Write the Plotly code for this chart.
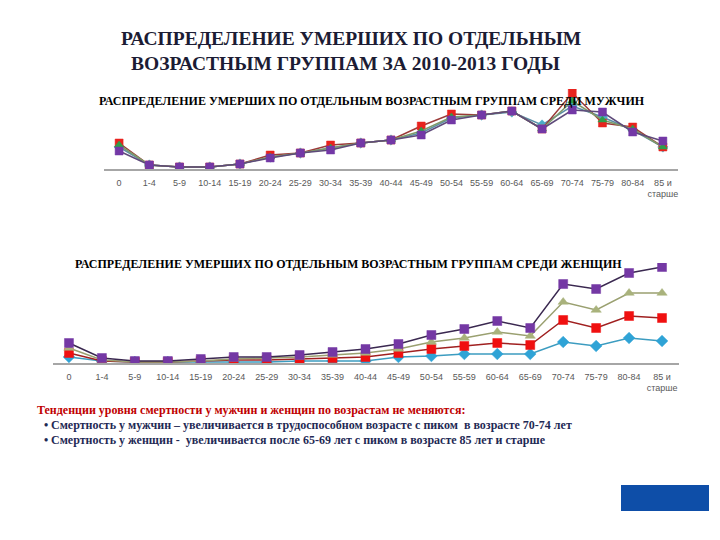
import plotly.graph_objects as go

W, H = 720, 540
OFF = 8  # default page body margin in the browser

age_groups = ["0", "1-4", "5-9", "10-14", "15-19", "20-24", "25-29", "30-34", "35-39",
              "40-44", "45-49", "50-54", "55-59", "60-64", "65-69", "70-74", "75-79",
              "80-84", "85 и<br>старше"]

years = ["2010", "2011", "2012", "2013"]

# Men (relative share, arbitrary units)
men_2010 = [22, 4, 2, 2, 5, 12, 16, 21, 26, 29, 36, 51, 54, 57, 44, 63, 52, 39, 22]
men_2011 = [26, 4, 2, 2, 5, 14, 16, 24, 26, 29, 43, 55, 54, 58, 40, 76, 46, 42, 22]
men_2012 = [24, 4, 2, 2, 5, 12, 16, 21, 26, 29, 38, 52, 54, 58, 40, 68, 49, 40, 22]
men_2013 = [18, 4, 2, 2, 5, 11, 16, 19, 26, 29, 34, 49, 54, 58, 40, 59, 57, 37, 28]

# Women (cumulative chart values)
women_2010 = [6, 2, 1, 1, 1, 1, 1, 2, 2, 2, 6, 7, 9, 9, 9, 21, 17, 25, 22]
women_2011 = [10, 2, 1, 1, 2, 3, 3, 4, 5, 6, 10, 14, 17, 20, 18, 43, 35, 47, 45]
women_2012 = [15, 3, 1, 1, 2, 4, 5, 6, 8, 10, 14, 21, 25, 31, 27, 61, 53, 70, 70]
women_2013 = [20, 5, 2, 2, 4, 6, 6, 8, 11, 14, 19, 28, 34, 42, 35, 79, 74, 90, 96]

men_series = [men_2010, men_2011, men_2012, men_2013]
women_series = [women_2010, women_2011, women_2012, women_2013]

men_style = [
    dict(symbol="diamond", color="#4BACC6", line="#5A8FA8"),
    dict(symbol="square", color="#E8231E", line="#9B3A38"),
    dict(symbol="triangle-up", color="#2E9E4A", line="#7F9A6A"),
    dict(symbol="square", color="#7338A6", line="#5E4A7A"),
]
women_style = [
    dict(symbol="diamond", color="#2FA3D6", line="#3C9CC0"),
    dict(symbol="square", color="#F01010", line="#A02020"),
    dict(symbol="triangle-up", color="#A9B27C", line="#9AA070"),
    dict(symbol="square", color="#7438A4", line="#3A2850"),
]

def px_x(p):
    return (p - OFF) / W

def px_y(p):
    return 1 - (p - OFF) / H

fig = go.Figure()

for name, vals, st in zip(years, men_series, men_style):
    fig.add_trace(go.Scatter(
        x=age_groups, y=vals, name=name, mode="lines+markers",
        line=dict(color=st["line"], width=1.5),
        marker=dict(symbol=st["symbol"], size=8, color=st["color"],
                    line=dict(color=st["color"], width=0.5)),
        xaxis="x", yaxis="y", showlegend=False))

for name, vals, st in zip(years, women_series, women_style):
    fig.add_trace(go.Scatter(
        x=age_groups, y=vals, name=name, mode="lines+markers",
        line=dict(color=st["line"], width=1.5),
        marker=dict(symbol=st["symbol"], size=9, color=st["color"],
                    line=dict(color=st["color"], width=0.5)),
        xaxis="x2", yaxis="y2", showlegend=False))

axis_common = dict(
    type="category", categoryorder="array", categoryarray=age_groups,
    range=[-0.5, len(age_groups) - 0.5],
    showline=True, linecolor="#A6A6A6", linewidth=1.5,
    showgrid=False, zeroline=False, ticks="", fixedrange=True,
    ticklabelstandoff=4,
    tickfont=dict(family="Liberation Sans", size=9, color="#595959"),
)

fig.update_layout(
    width=W, height=H,
    margin=dict(l=0, r=0, t=0, b=0),
    paper_bgcolor="white", plot_bgcolor="rgba(0,0,0,0)",
    xaxis=dict(axis_common, domain=[px_x(104), px_x(678)], anchor="y"),
    yaxis=dict(domain=[px_y(169), px_y(89)], range=[0, 80], visible=False, anchor="x"),
    xaxis2=dict(axis_common, domain=[px_x(52.5), px_x(678.5)], anchor="y2"),
    yaxis2=dict(domain=[px_y(363), px_y(263)], range=[0, 100], visible=False, anchor="x2"),
)

title_font = dict(family="Liberation Serif", size=19.5, color="#1C1C34")
sub_font = dict(family="Liberation Serif", size=12, color="#000000")
body = dict(family="Liberation Serif", size=12, color="#1F2A55")

annotations = [
    dict(text="<b>РАСПРЕДЕЛЕНИЕ УМЕРШИХ ПО ОТДЕЛЬНЫМ</b>", x=px_x(351), y=px_y(39),
         font=title_font),
    dict(text="<b>ВОЗРАСТНЫМ ГРУППАМ ЗА 2010-2013 ГОДЫ</b>", x=px_x(345), y=px_y(63),
         font=title_font),
    dict(text="<b>РАСПРЕДЕЛЕНИЕ УМЕРШИХ ПО ОТДЕЛЬНЫМ ВОЗРАСТНЫМ ГРУППАМ СРЕДИ МУЖЧИН</b>",
         x=px_x(372), y=px_y(101), font=sub_font),
    dict(text="<b>РАСПРЕДЕЛЕНИЕ УМЕРШИХ ПО ОТДЕЛЬНЫМ ВОЗРАСТНЫМ ГРУППАМ СРЕДИ ЖЕНЩИН</b>",
         x=px_x(348), y=px_y(264), font=sub_font),
    dict(text="<b>Тенденции уровня смертности у мужчин и женщин по возрастам не меняются:</b>",
         x=px_x(35), y=px_y(410), xanchor="left",
         font=dict(family="Liberation Serif", size=12, color="#C00000")),
    dict(text="<b>•</b>", x=px_x(42), y=px_y(425), xanchor="left", font=body),
    dict(text="<b>Смертность у мужчин – увеличивается в трудоспособном возрасте с пиком  в возрасте 70-74 лет</b>",
         x=px_x(49), y=px_y(425), xanchor="left", font=body),
    dict(text="<b>•</b>", x=px_x(42), y=px_y(440), xanchor="left", font=body),
    dict(text="<b>Смертность у женщин -  увеличивается после 65-69 лет с пиком в возрасте 85 лет и старше</b>",
         x=px_x(49), y=px_y(440), xanchor="left", font=body),
]
for a in annotations:
    a.update(xref="paper", yref="paper", showarrow=False, yanchor="middle")
    a.setdefault("xanchor", "center")
fig.update_layout(annotations=annotations)

fig.add_shape(type="rect", xref="paper", yref="paper",
              x0=px_x(621), x1=px_x(709), y0=px_y(511), y1=px_y(485),
              fillcolor="#0E4EA8", line=dict(width=0))

fig.write_html("out.html", config=dict(displayModeBar=False))
